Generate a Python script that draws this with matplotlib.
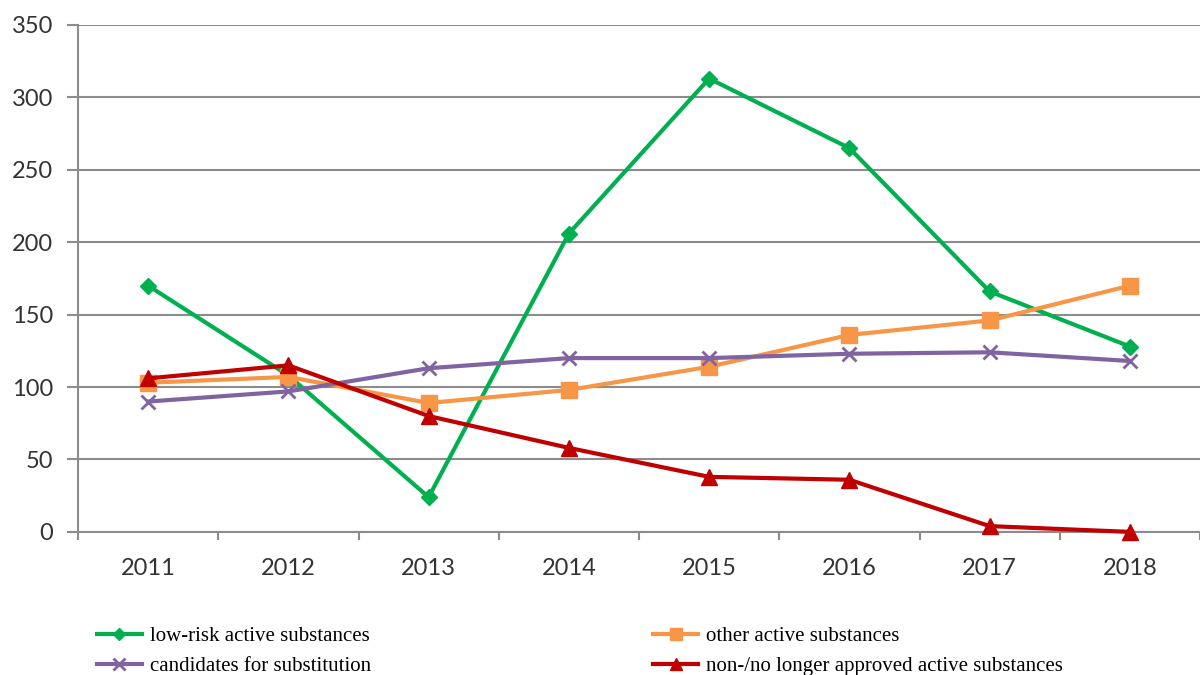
import numpy as np
import matplotlib.pyplot as plt

years = ["2011", "2012", "2013", "2014", "2015", "2016", "2017", "2018"]

low_risk = [170, 108, 24, 206, 313, 265, 166, 128]
other = [103, 107, 89, 98, 114, 136, 146, 170]
candidates = [90, 97, 113, 120, 120, 123, 124, 118]
not_approved = [106, 115, 80, 58, 38, 36, 4, 0]

plt.rcParams['font.family'] = ['Lato', 'DejaVu Sans']

fig = plt.figure(figsize=(12, 6.75), dpi=100)
ax = fig.add_axes([0.065, 0.212, 0.935, 0.751])

x = np.arange(len(years))

l1, = ax.plot(x, low_risk, color="#00B050", lw=3, marker="D", ms=8,
              label="low-risk active substances", zorder=3, clip_on=False)
l2, = ax.plot(x, other, color="#F79646", lw=3, marker="s", ms=11,
              label="other active substances", zorder=3, clip_on=False)
l3, = ax.plot(x, candidates, color="#8064A2", lw=3, marker="x", ms=10, mew=2,
              label="candidates for substitution", zorder=3, clip_on=False)
l4, = ax.plot(x, not_approved, color="#C00000", lw=3, marker="^", ms=11,
              label="non-/no longer approved active substances", zorder=4, clip_on=False)

ax.set_xlim(-0.5, 7.46)
ax.set_ylim(0, 350)
ax.set_yticks(range(0, 351, 50))
ax.yaxis.grid(True, color="#8c8c8c", lw=1.5)
ax.set_axisbelow(True)

ax.set_xticks(x)
ax.set_xticklabels(years)
ax.set_xticks(np.arange(-0.5, 7.6, 1), minor=True)
ax.tick_params(axis="x", which="major", length=0, pad=19, labelsize=17, labelcolor="#333333")
ax.tick_params(axis="x", which="minor", length=6, width=1.5, color="#8c8c8c")
ax.tick_params(axis="y", length=8, width=1.5, color="#8c8c8c", pad=10,
               labelsize=17, labelcolor="#333333")

for s in ["top", "right"]:
    ax.spines[s].set_visible(False)
for s in ["left", "bottom"]:
    ax.spines[s].set_color("#8c8c8c")
    ax.spines[s].set_linewidth(1.5)

fig.legend(handles=[l1, l3, l2, l4], loc="upper left", bbox_to_anchor=(0.065, 0.1),
           ncol=2, frameon=False, handlelength=2.15, handletextpad=0.4,
           columnspacing=13.55, labelspacing=0.5, markerscale=0.8,
           prop={"family": "Liberation Serif", "size": 15})

fig.savefig("out.png", dpi=100)
